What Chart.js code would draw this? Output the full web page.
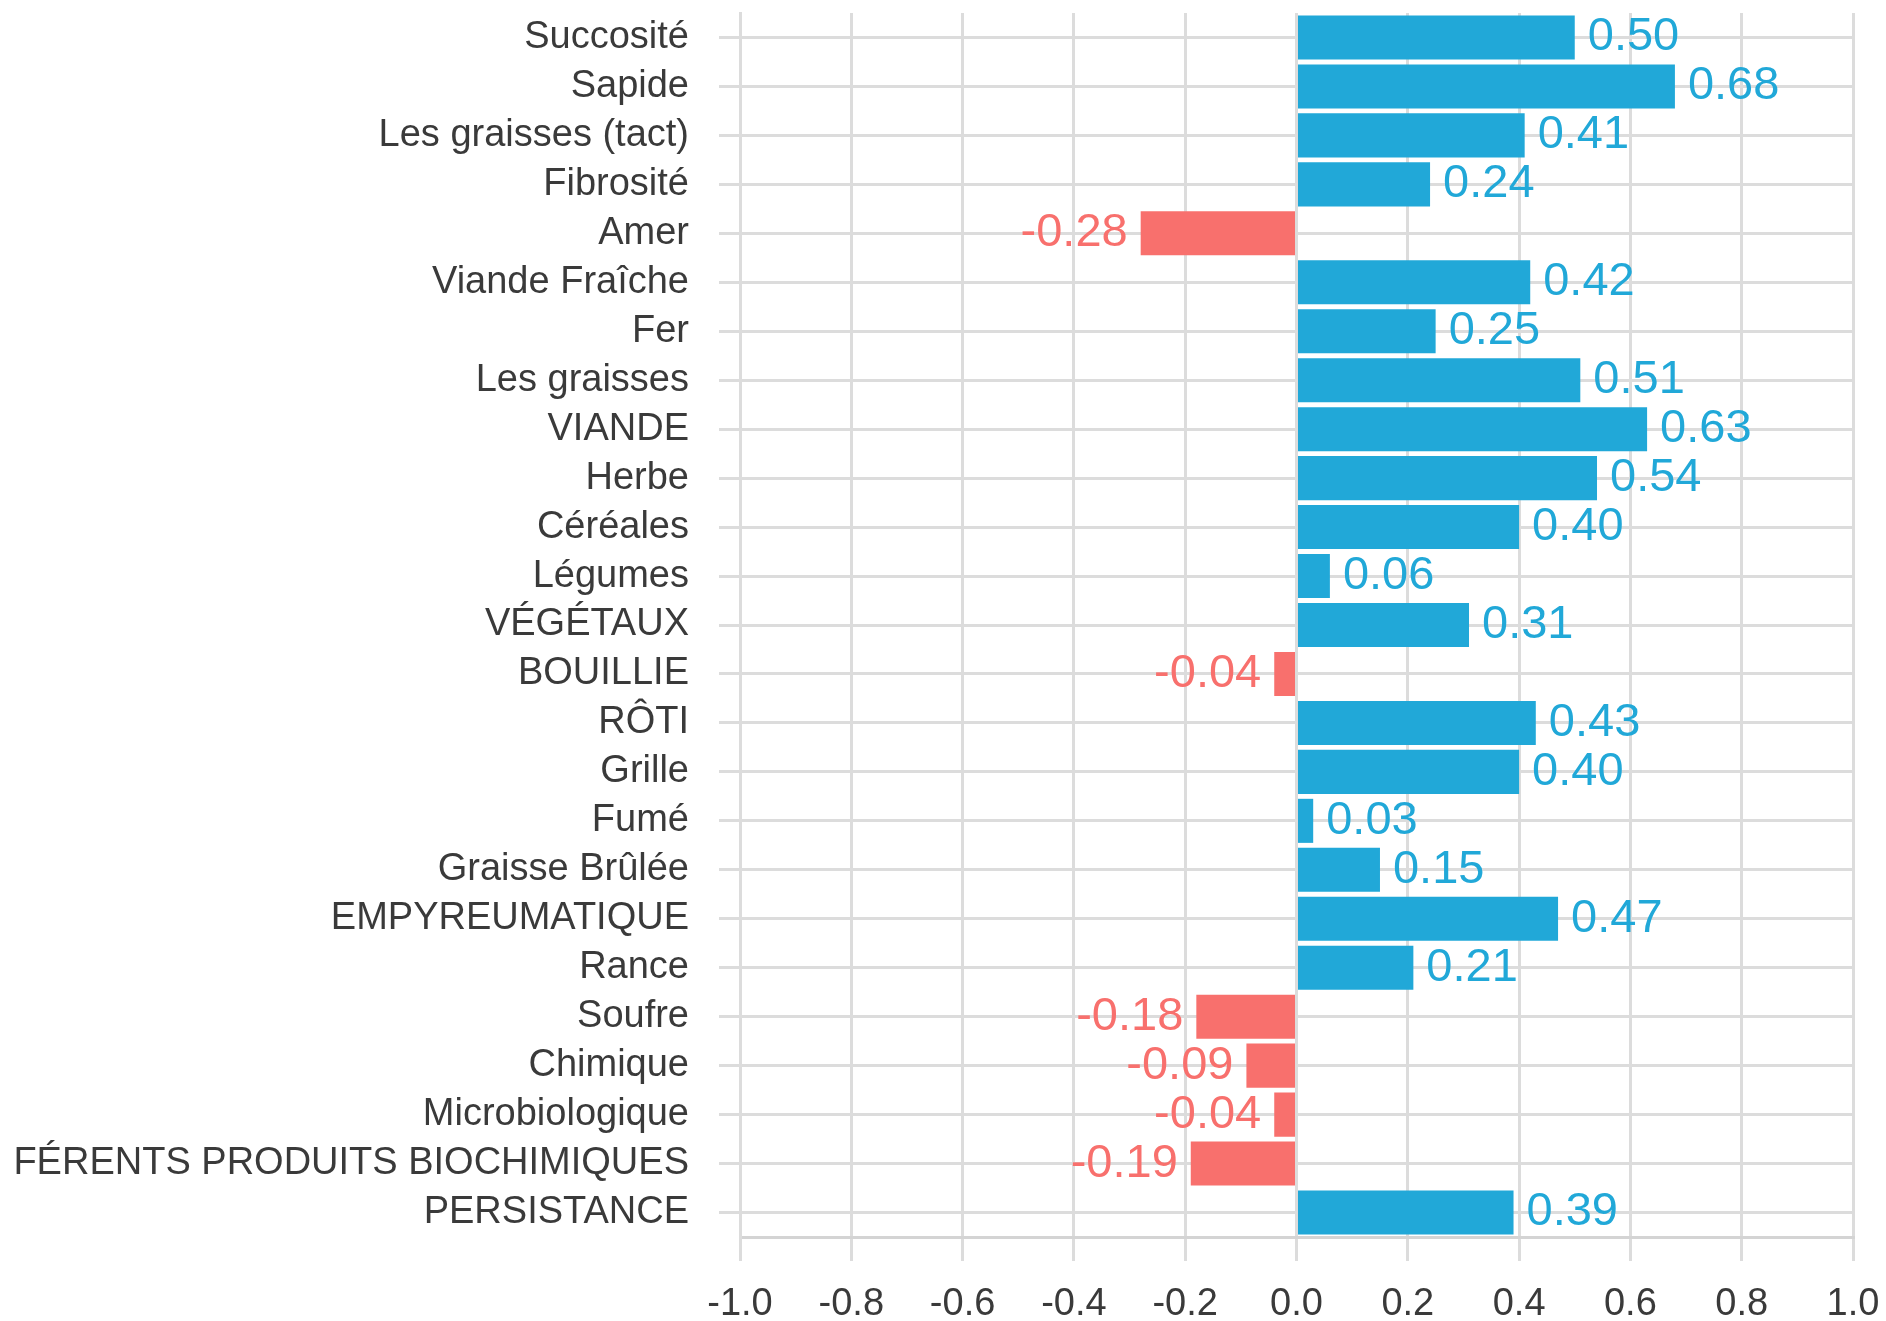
<!DOCTYPE html>
<html>
<head>
<meta charset="utf-8">
<script src="https://cdn.jsdelivr.net/npm/chart.js@4/dist/chart.umd.min.js"></script>
<style>
  html, body { margin: 0; padding: 0; background: #fff; overflow: hidden; }
  #wrap { position: absolute; left: 14px; top: 0; width: 1872px; height: 1321px; }
</style>
</head>
<body>
<div id="wrap"><canvas id="chart" width="1872" height="1321"></canvas></div>
<script>
// data
var categories = [
  'Succosité', 'Sapide', 'Les graisses (tact)', 'Fibrosité', 'Amer',
  'Viande Fraîche', 'Fer', 'Les graisses', 'VIANDE', 'Herbe',
  'Céréales', 'Légumes', 'VÉGÉTAUX', 'BOUILLIE', 'RÔTI',
  'Grille', 'Fumé', 'Graisse Brûlée', 'EMPYREUMATIQUE', 'Rance',
  'Soufre', 'Chimique', 'Microbiologique', 'DIFFÉRENTS PRODUITS BIOCHIMIQUES', 'PERSISTANCE'
];
var values = [
  0.50, 0.68, 0.41, 0.24, -0.28,
  0.42, 0.25, 0.51, 0.63, 0.54,
  0.40, 0.06, 0.31, -0.04, 0.43,
  0.40, 0.03, 0.15, 0.47, 0.21,
  -0.18, -0.09, -0.04, -0.19, 0.39
];
var tickValues = [-1.0, -0.8, -0.6, -0.4, -0.2, 0.0, 0.2, 0.4, 0.6, 0.8, 1.0];
var tickLabels = ['-1.0', '-0.8', '-0.6', '-0.4', '-0.2', '0.0', '0.2', '0.4', '0.6', '0.8', '1.0'];

var blue = '#21a8d8';
var red = '#f8706d';
var textcolor = '#3a3a3a';
var gridcolor = '#dcdcdc';
var fontfamily = "'Liberation Sans', Arial, sans-serif";

Chart.defaults.font.family = fontfamily;

var barcolors = values.map(function(v){ return v < 0 ? red : blue; });

//draws the value next to each bar
var valueLabels = {
  id: 'valueLabels',
  afterDatasetsDraw: function(chart){
    var ctx = chart.ctx;
    var meta = chart.getDatasetMeta(0);
    ctx.save();
    ctx.font = '47px ' + fontfamily;
    ctx.textBaseline = 'middle';
    meta.data.forEach(function(bar, i){
      var v = values[i];
      ctx.fillStyle = barcolors[i];
      if (v < 0) {
        ctx.textAlign = 'right';
        ctx.fillText(v.toFixed(2), bar.x - 13, bar.y);
      } else {
        ctx.textAlign = 'left';
        ctx.fillText(v.toFixed(2), bar.x + 13, bar.y);
      }
    });
    ctx.restore();
  }
};

var chart = new Chart(document.getElementById('chart'), {
  type: 'bar',
  data: {
    labels: categories,
    datasets: [{
      data: values,
      backgroundColor: barcolors,
      barPercentage: 0.9,
      categoryPercentage: 1.0
    }]
  },
  options: {
    indexAxis: 'y',
    responsive: false,
    animation: false,
    layout: { padding: { top: 13, right: 33, bottom: 0, left: 0 } },
    plugins: {
      legend: { display: false },
      tooltip: { enabled: false }
    },
    scales: {
      x: {
        min: -1,
        max: 1,
        afterBuildTicks: function(scale){
          scale.ticks = tickValues.map(function(v){ return { value: v }; });
        },
        afterFit: function(scale){
          scale.height = 84;
          scale.paddingLeft = 0;
          scale.paddingRight = 0;
        },
        ticks: {
          callback: function(v, i){ return tickLabels[i]; },
          font: { size: 38 },
          color: textcolor,
          padding: 21,
          maxRotation: 0
        },
        grid: { color: gridcolor, lineWidth: 3, tickLength: 24 },
        border: { display: true, color: '#d4d4d4', width: 3 }
      },
      y: {
        afterFit: function(scale){
          scale.width = 726;
          scale.paddingTop = 0;
          scale.paddingBottom = 0;
        },
        ticks: {
          font: { size: 38 },
          color: textcolor,
          padding: 30,
          autoSkip: false
        },
        grid: { offset: false, color: gridcolor, lineWidth: 3, tickLength: 21 },
        border: { display: true, color: gridcolor, width: 3 }
      }
    }
  },
  plugins: [valueLabels]
});
</script>
</body>
</html>
